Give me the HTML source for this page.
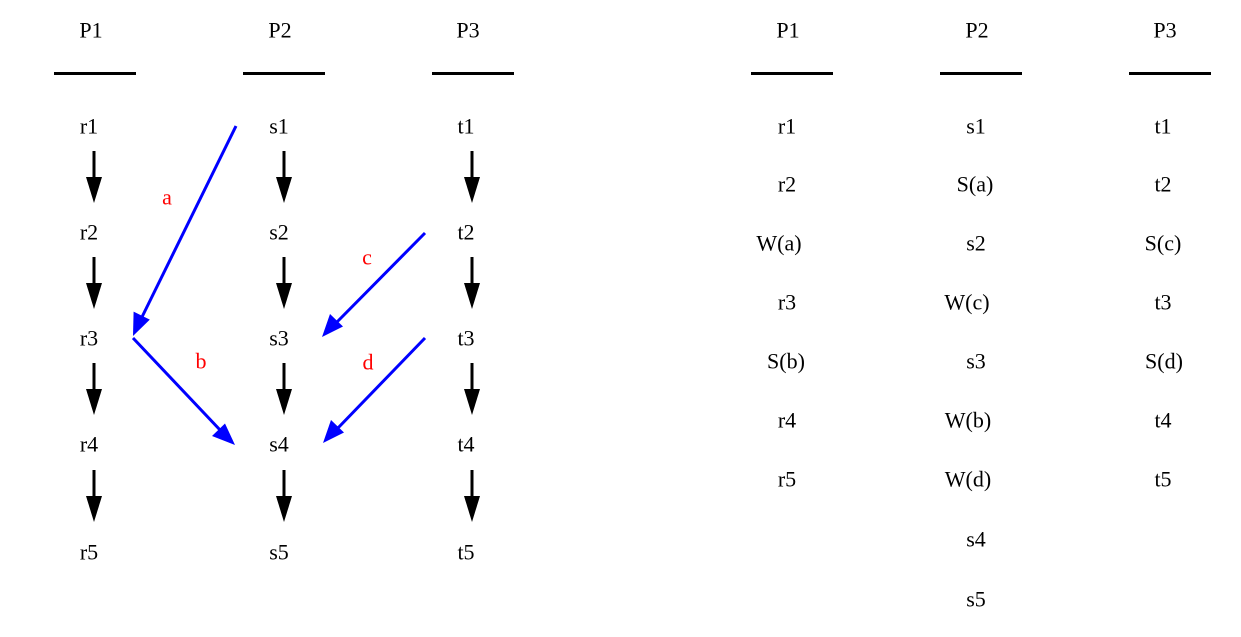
<!DOCTYPE html>
<html><head><meta charset="utf-8"><style>
html,body{margin:0;padding:0;background:#fff;}
svg{display:block;}
text{font-family:"Liberation Serif","DejaVu Serif",serif;font-size:22px;text-anchor:middle;dominant-baseline:central;}
</style></head><body>
<svg width="1241" height="637" viewBox="0 0 1241 637" xmlns="http://www.w3.org/2000/svg">
<defs>
<marker id="bk" markerWidth="17" markerHeight="26" refX="8.5" refY="26" orient="auto" markerUnits="userSpaceOnUse" viewBox="0 0 17 26">
</marker>
</defs>
<g fill="#000">
<text x="91" y="30">P1</text><text x="280" y="30">P2</text><text x="468" y="30">P3</text>
<rect x="54" y="72" width="82" height="3"/><rect x="243" y="72" width="82" height="3"/><rect x="432" y="72" width="82" height="3"/>
<text x="89" y="126">r1</text><text x="89" y="232">r2</text><text x="89" y="338">r3</text><text x="89" y="444">r4</text><text x="89" y="552">r5</text>
<text x="279" y="126">s1</text><text x="279" y="232">s2</text><text x="279" y="338">s3</text><text x="279" y="444">s4</text><text x="279" y="552">s5</text>
<text x="466" y="126">t1</text><text x="466" y="232">t2</text><text x="466" y="338">t3</text><text x="466" y="444">t4</text><text x="466" y="552">t5</text>
</g>
<g id="varr" stroke="#000" stroke-width="3" fill="#000">
<!-- generated black arrows -->
<g transform="translate(94,0)">
<line x1="0" y1="151" x2="0" y2="180"/><polygon points="-8,177 8,177 0,203" stroke="none"/>
<line x1="0" y1="257" x2="0" y2="286"/><polygon points="-8,283 8,283 0,309" stroke="none"/>
<line x1="0" y1="363" x2="0" y2="392"/><polygon points="-8,389 8,389 0,415" stroke="none"/>
<line x1="0" y1="470" x2="0" y2="499"/><polygon points="-8,496 8,496 0,522" stroke="none"/>
</g>
<g transform="translate(284,0)">
<line x1="0" y1="151" x2="0" y2="180"/><polygon points="-8,177 8,177 0,203" stroke="none"/>
<line x1="0" y1="257" x2="0" y2="286"/><polygon points="-8,283 8,283 0,309" stroke="none"/>
<line x1="0" y1="363" x2="0" y2="392"/><polygon points="-8,389 8,389 0,415" stroke="none"/>
<line x1="0" y1="470" x2="0" y2="499"/><polygon points="-8,496 8,496 0,522" stroke="none"/>
</g>
<g transform="translate(472,0)">
<line x1="0" y1="151" x2="0" y2="180"/><polygon points="-8,177 8,177 0,203" stroke="none"/>
<line x1="0" y1="257" x2="0" y2="286"/><polygon points="-8,283 8,283 0,309" stroke="none"/>
<line x1="0" y1="363" x2="0" y2="392"/><polygon points="-8,389 8,389 0,415" stroke="none"/>
<line x1="0" y1="470" x2="0" y2="499"/><polygon points="-8,496 8,496 0,522" stroke="none"/>
</g>
</g>
<g stroke="#0000ff" stroke-width="3" fill="#0000ff">
<!-- a -->
<line x1="236" y1="126" x2="142" y2="317"/>
<polygon points="133,336 133.6,311.6 149.8,319.6" stroke="none"/>
<!-- b -->
<line x1="133" y1="338" x2="221" y2="431"/>
<polygon points="235,445 212,436 225,423.5" stroke="none"/>
<!-- c -->
<line x1="425" y1="233" x2="336" y2="323"/>
<polygon points="322,337 330,314 343,326.5" stroke="none"/>
<!-- d -->
<line x1="425" y1="338" x2="337" y2="429"/>
<polygon points="323,443 331,420 344,432.5" stroke="none"/>
</g>
<g fill="#ff0000">
<text x="167" y="197">a</text><text x="201" y="361">b</text><text x="367" y="257">c</text><text x="368" y="362">d</text>
</g>
<g fill="#000">
<text x="788" y="30">P1</text><text x="977" y="30">P2</text><text x="1165" y="30">P3</text>
<rect x="751" y="72" width="82" height="3"/><rect x="940" y="72" width="82" height="3"/><rect x="1129" y="72" width="82" height="3"/>
<text x="787" y="126">r1</text><text x="787" y="184">r2</text><text x="779" y="243">W(a)</text><text x="787" y="302">r3</text><text x="786" y="361">S(b)</text><text x="787" y="420">r4</text><text x="787" y="479">r5</text>
<text x="976" y="126">s1</text><text x="975" y="184">S(a)</text><text x="976" y="243">s2</text><text x="967" y="302">W(c)</text><text x="976" y="361">s3</text><text x="968" y="420">W(b)</text><text x="968" y="479">W(d)</text><text x="976" y="539">s4</text><text x="976" y="599">s5</text>
<text x="1163" y="126">t1</text><text x="1163" y="184">t2</text><text x="1163" y="243">S(c)</text><text x="1163" y="302">t3</text><text x="1164" y="361">S(d)</text><text x="1163" y="420">t4</text><text x="1163" y="479">t5</text>
</g>
</svg>
</body></html>
